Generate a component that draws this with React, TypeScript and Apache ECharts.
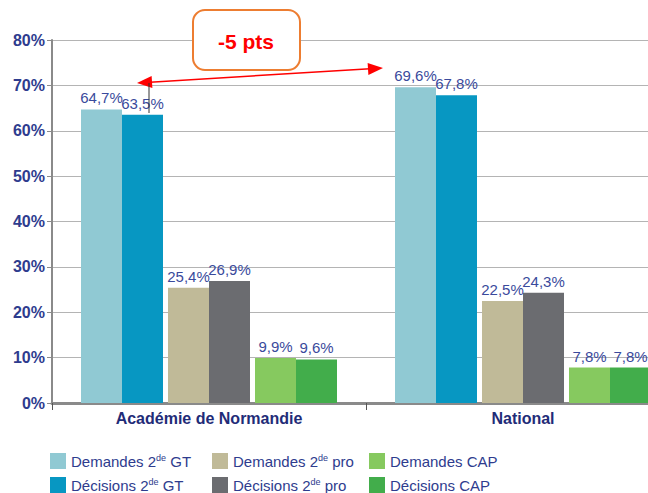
import React, { useEffect, useRef } from "react";
import * as echarts from "echarts";

const categories = ["Académie de Normandie", "National"];
const seriesNames = [
  "Demandes 2de GT",
  "Décisions 2de GT",
  "Demandes 2de pro",
  "Décisions 2de pro",
  "Demandes CAP",
  "Décisions CAP",
];
const demandesGT = [64.7, 69.6];
const decisionsGT = [63.5, 67.8];
const demandesPro = [25.4, 22.5];
const decisionsPro = [26.9, 24.3];
const demandesCAP = [9.9, 7.8];
const decisionsCAP = [9.6, 7.8];
const yTicks = [0, 10, 20, 30, 40, 50, 60, 70, 80];
const colors = ["#90c9d3", "#0797c2", "#c0ba98", "#6b6c70", "#86c95f", "#42ad4b"];

const FONT = "Liberation Sans, Arial, sans-serif";
const BLUE = "#2e3c8e";

function legendFmt(name: string) {
  if (name.indexOf("2de") >= 0) {
    const [a, b] = name.split("2de");
    return `{a|${a}2}{s|de}{a|${b}}`;
  }
  return `{a|${name}}`;
}

export default function App() {
  const ref = useRef<HTMLDivElement>(null);
  useEffect(() => {
    if (!ref.current) return;
    const chart = echarts.init(ref.current, undefined, { renderer: "svg" });
    const values = [demandesGT, decisionsGT, demandesPro, decisionsPro, demandesCAP, decisionsCAP];
    const series: any[] = [];
    values.forEach((vals, i) => {
      series.push({
        name: seriesNames[i],
        type: "bar",
        data: vals,
        barWidth: 41,
        barGap: "0%",
        itemStyle: { color: colors[i] },
        label: {
          show: true,
          position: "top",
          distance: 4,
          formatter: (p: any) => p.value.toFixed(1).replace(".", ",") + "%",
          color: "#3a4a9c",
          fontSize: 15,
          fontFamily: FONT,
        },
      });
      if (i === 1 || i === 3) {
        series.push({
          name: "_spacer" + i,
          type: "bar",
          data: ["-", "-"],
          barWidth: 5,
          barGap: "0%",
          itemStyle: { color: "transparent" },
        });
      }
    });
    const richText = {
      a: { fontSize: 15, color: BLUE, fontFamily: FONT },
      s: { fontSize: 9, color: BLUE, fontFamily: FONT, verticalAlign: "top", padding: [0, 0, 7, 0] },
    };
    const colLeft = [50, 50, 212, 212, 369, 369];
    const rowTop = [453, 477, 453, 477, 453, 477];
    const legends = seriesNames.map((n, i) => ({
      orient: "horizontal",
      left: colLeft[i],
      top: rowTop[i],
      padding: 0,
      itemWidth: 16,
      itemHeight: 16,
      icon: "rect",
      data: [n],
      formatter: legendFmt,
      textStyle: { rich: richText, fontSize: 15, color: BLUE, fontFamily: FONT },
    }));
    chart.setOption({
      animation: false,
      textStyle: { fontFamily: FONT },
      grid: { left: 52, top: 40, width: 628, height: 363, containLabel: false, outerBoundsMode: "none" },
      legend: legends,
      xAxis: {
        type: "category",
        data: categories,
        axisLine: { lineStyle: { color: "#8a8a8a", width: 3 } },
        axisTick: { show: true, length: 7, lineStyle: { color: "#555", width: 1 } },
        axisLabel: { fontSize: 16, fontWeight: "bold", color: "#1f2c78", margin: 7, fontFamily: FONT },
      },
      yAxis: {
        type: "value",
        min: yTicks[0],
        max: yTicks[yTicks.length - 1],
        interval: 10,
        axisLine: { show: true, lineStyle: { color: "#8a8a8a", width: 2 } },
        axisTick: { show: true, length: 5, lineStyle: { color: "#8a8a8a" } },
        splitLine: { lineStyle: { color: "#b4b4b4", width: 1 } },
        axisLabel: {
          formatter: (v: number) => v + "%",
          fontSize: 16,
          fontWeight: "bold",
          color: BLUE,
          margin: 7,
          fontFamily: FONT,
        },
      },
      series,
      graphic: [
        {
          type: "rect",
          z: 100,
          shape: { x: 193, y: 10, width: 107, height: 60, r: 12 },
          style: { fill: "#ffffff", stroke: "#ed7d31", lineWidth: 2 },
        },
        {
          type: "text",
          z: 101,
          x: 246,
          y: 41,
          style: {
            text: "-5 pts",
            fill: "#ff0000",
            font: "bold 21px " + FONT,
            align: "center",
            verticalAlign: "middle",
          },
        },
        {
          type: "line",
          z: 100,
          shape: { x1: 150, y1: 82.2, x2: 370, y2: 68.8 },
          style: { stroke: "#ff0000", lineWidth: 1.5 },
        },
        {
          type: "polygon",
          z: 100,
          shape: { points: [[137, 83], [152.4, 88.1], [151.6, 76.1]] },
          style: { fill: "#ff0000" },
        },
        {
          type: "polygon",
          z: 100,
          shape: { points: [[383, 68], [368.4, 74.9], [367.6, 62.9]] },
          style: { fill: "#ff0000" },
        },
        {
          type: "line",
          z: 100,
          shape: { x1: 149, y1: 83, x2: 149, y2: 113 },
          style: { stroke: "#333333", lineWidth: 1 },
        },
      ],
    });
    return () => chart.dispose();
  }, []);
  return (
    <div
      ref={ref}
      style={{ position: "fixed", left: 0, top: 0, width: 648, height: 493, background: "#fff" }}
    />
  );
}
